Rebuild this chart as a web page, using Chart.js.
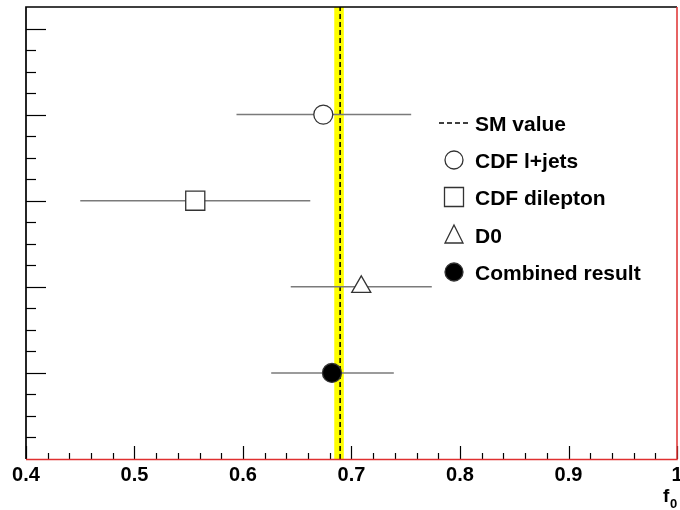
<!DOCTYPE html>
<html>
<head>
<meta charset="utf-8">
<script src="https://cdn.jsdelivr.net/npm/chart.js@4"></script>
<style>
	body { margin: 0; background: #fff; }
	#wrap { width: 680px; height: 510px; }
</style>
</head>
<body>
<div id="wrap"><canvas id="chart" width="680" height="510"></canvas></div>
<script>
// measurements of f0, one row each (top to bottom)
const measurements = ["CDF l+jets", "CDF dilepton", "D0", "Combined result"];
const f0Values = [0.674, 0.556, 0.709, 0.682];
const f0Low = [0.594, 0.450, 0.644, 0.626];
const f0High = [0.755, 0.662, 0.774, 0.739];
const rowPositions = [4, 3, 2, 1];

// standard model prediction and its band
const smValue = 0.6895;
const smBand = [0.684, 0.693];

const markerStyles = ["circle", "rect", "triangle", "circle"];
const markerRadius = [9.5, 13.5, 11, 9.5];
const markerFill = ["#fff", "#fff", "#fff", "#000"];

const yMin = 0;
const yMax = 5.25;
const FONT = "'Liberation Sans', Arial, sans-serif";

window.addEventListener("load", e => {
	drawChart();
});

function drawChart() {
	const datasets = [];

	// yellow band of the SM value
	datasets.push({
		data: [
			{ x: smBand[0], y: yMin },
			{ x: smBand[0], y: yMax },
			{ x: smBand[1], y: yMax },
			{ x: smBand[1], y: yMin },
		],
		showLine: true,
		fill: "origin",
		backgroundColor: "#ffff00",
		borderWidth: 0,
		pointRadius: 0,
		order: 4,
	});

	// dashed SM line
	datasets.push({
		data: [
			{ x: smValue, y: yMin },
			{ x: smValue, y: yMax },
		],
		showLine: true,
		borderColor: "#000",
		borderWidth: 1.5,
		borderDash: [5, 3],
		pointRadius: 0,
		order: 3,
	});

	// horizontal error bars
	measurements.forEach((name, i) => {
		datasets.push({
			data: [
				{ x: f0Low[i], y: rowPositions[i] },
				{ x: f0High[i], y: rowPositions[i] },
			],
			showLine: true,
			borderColor: "#7a7a7a",
			borderWidth: 1.5,
			pointRadius: 0,
			order: 2,
		});
	});

	// markers on top
	measurements.forEach((name, i) => {
		datasets.push({
			label: name,
			data: [{ x: f0Values[i], y: rowPositions[i] }],
			pointStyle: markerStyles[i],
			pointRadius: markerRadius[i],
			backgroundColor: markerFill[i],
			borderColor: "#333",
			borderWidth: 1.3,
			order: 1,
		});
	});

	const ctx = document.getElementById("chart").getContext("2d");
	new Chart(ctx, {
		type: "scatter",
		data: { datasets: datasets },
		options: {
			responsive: false,
			devicePixelRatio: 1,
			animation: false,
			layout: {
				autoPadding: false,
				padding: { left: 26, top: 7, right: 3, bottom: 0 },
			},
			plugins: {
				legend: { display: false },
				tooltip: { enabled: false },
			},
			scales: {
				x: {
					type: "linear",
					min: 0.4,
					max: 1.0,
					border: { display: false },
					grid: { display: false },
					ticks: {
						stepSize: 0.1,
						padding: -4,
						color: "#000",
						font: { family: FONT, size: 20, weight: "bold" },
						callback: v => String(Number(v.toFixed(1))),
					},
					afterFit: scale => {
						scale.height = 51;
						scale.paddingLeft = 0;
						scale.paddingRight = 0;
					},
				},
				y: {
					type: "linear",
					min: yMin,
					max: yMax,
					display: false,
				},
			},
		},
		plugins: [framePlugin],
	});
}

// frame, inward ticks, legend and axis title
const framePlugin = {
	id: "frame",
	afterDraw(chart) {
		const c = chart.ctx;
		const area = chart.chartArea;
		const xs = chart.scales.x;
		const ys = chart.scales.y;
		c.save();

		// tick marks on x axis (every 0.02, long every 0.1)
		c.strokeStyle = "#000";
		c.lineWidth = 1.2;
		for (let i = 0; i <= 30; i++) {
			const px = Math.round(xs.getPixelForValue(0.4 + i * 0.02)) + 0.5;
			const len = i % 5 === 0 ? 13 : 6;
			c.beginPath();
			c.moveTo(px, area.bottom);
			c.lineTo(px, area.bottom - len);
			c.stroke();
		}
		// tick marks on y axis (every 0.25, long every 1)
		for (let i = 1; i * 0.25 < yMax; i++) {
			const py = Math.round(ys.getPixelForValue(i * 0.25)) + 0.5;
			const len = i % 4 === 0 ? 20 : 10;
			c.beginPath();
			c.moveTo(area.left, py);
			c.lineTo(area.left + len, py);
			c.stroke();
		}

		// frame: black left/top, red right/bottom
		c.lineWidth = 1.7;
		c.strokeStyle = "#000";
		c.beginPath();
		c.moveTo(area.left, area.bottom);
		c.lineTo(area.left, area.top);
		c.lineTo(area.right, area.top);
		c.stroke();
		c.strokeStyle = "#e03030";
		c.lineWidth = 1.5;
		c.beginPath();
		c.moveTo(area.left, area.bottom + 0.5);
		c.lineTo(area.right, area.bottom + 0.5);
		c.lineTo(area.right, area.top);
		c.stroke();

		// axis title f0
		c.fillStyle = "#000";
		c.textBaseline = "alphabetic";
		c.font = "bold 19px " + FONT;
		c.fillText("f", 663, 502);
		c.font = "bold 13px " + FONT;
		c.fillText("0", 670, 508);

		// legend
		const lx = 454;
		const tx = 475;
		const baselines = [131, 168, 205, 243, 280];
		c.font = "bold 21px " + FONT;
		c.fillText("SM value", tx, baselines[0]);
		c.strokeStyle = "#000";
		c.lineWidth = 1.5;
		c.setLineDash([5, 3]);
		c.beginPath();
		c.moveTo(439, baselines[0] - 8);
		c.lineTo(470, baselines[0] - 8);
		c.stroke();
		c.setLineDash([]);

		measurements.forEach((name, i) => {
			const by = baselines[i + 1];
			const cy = by - 8;
			c.fillStyle = "#000";
			c.fillText(name, tx, by);
			c.strokeStyle = "#333";
			c.lineWidth = 1.3;
			c.beginPath();
			if (markerStyles[i] === "circle") {
				c.arc(lx, cy, 9, 0, Math.PI * 2);
			} else if (markerStyles[i] === "rect") {
				c.rect(lx - 9.5, cy - 9.5, 19, 19);
			} else {
				c.moveTo(lx, cy - 10);
				c.lineTo(lx + 9, cy + 8);
				c.lineTo(lx - 9, cy + 8);
				c.closePath();
			}
			c.fillStyle = markerFill[i];
			c.fill();
			c.stroke();
		});

		c.restore();
	},
};
</script>
</body>
</html>
